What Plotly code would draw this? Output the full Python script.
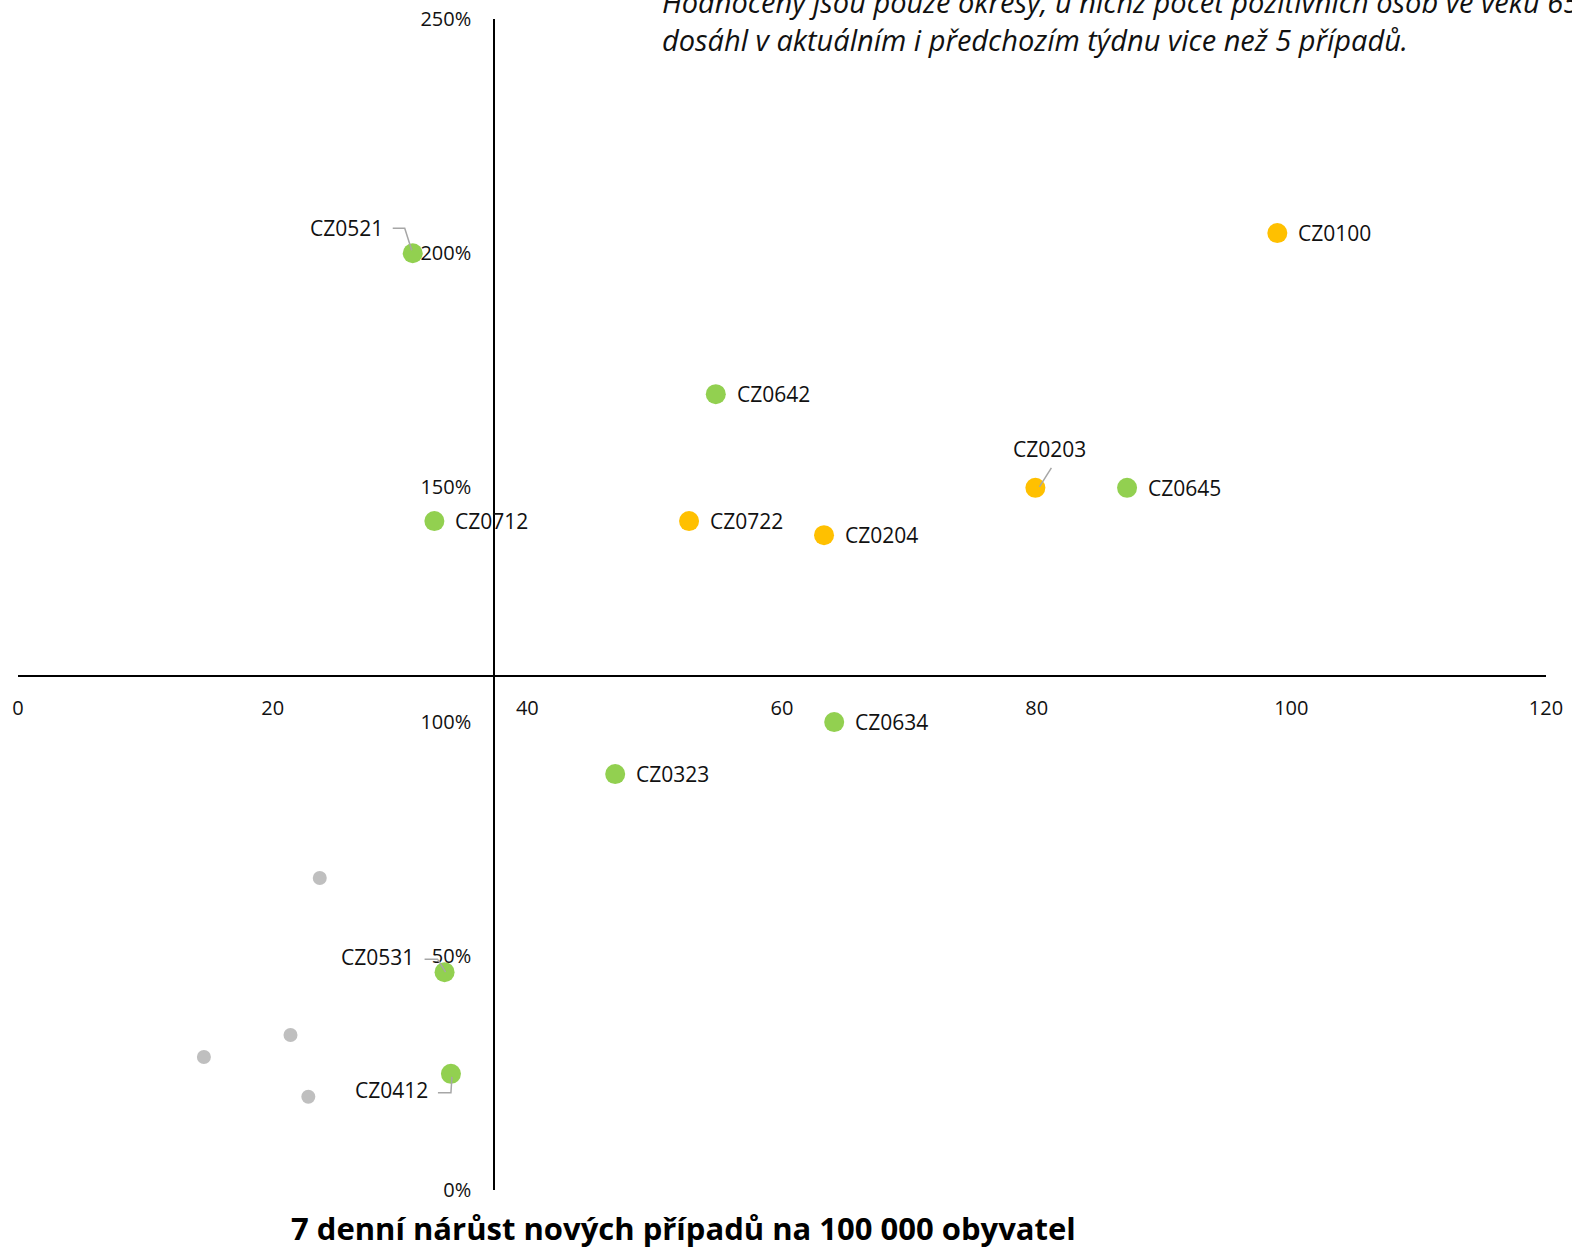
import plotly.graph_objects as go

# ---- data ----
codes = ["CZ0521", "CZ0100", "CZ0642", "CZ0203", "CZ0645", "CZ0712",
         "CZ0722", "CZ0204", "CZ0634", "CZ0323", "CZ0531", "CZ0412"]
x_vals = [31.0, 98.9, 54.8, 79.9, 87.1, 32.7, 52.7, 63.3, 64.1, 46.9, 33.5, 34.0]
y_vals = [2.000, 2.043, 1.699, 1.499, 1.499, 1.428, 1.428, 1.398, 0.999, 0.888, 0.465, 0.248]
groups = ["green", "orange", "green", "orange", "green", "green",
          "orange", "orange", "green", "green", "green", "green"]

grey_x = [23.7, 21.4, 14.6, 22.8]
grey_y = [0.666, 0.331, 0.284, 0.199]

x_ticks = [0, 20, 40, 60, 80, 100, 120]
y_ticks = [0, 0.5, 1.0, 1.5, 2.0, 2.5]

title_text = "7 denní nárůst nových případů na 100 000 obyvatel"
note_line1 = "Hodnoceny jsou pouze okresy, u nichž počet pozitivních osob ve věku 65+"
note_line2 = "dosáhl v aktuálním i předchozím týdnu vice než 5 případů."

colors = {"green": "#92D050", "orange": "#FFC000"}
FONT = "Open Sans"

# label offsets (screen pixels, y up) and leader paths for labels moved off their point
leader_label = {"CZ0521": (-66, 25), "CZ0203": (14, 39),
                "CZ0531": (-67, 15), "CZ0412": (-59, -16)}
leader_path = {"CZ0521": "M -20 25 L -8 25 L -1 3",
               "CZ0203": "M 16 20 L 4 1",
               "CZ0531": "M -20 13 L -7 13 L 1 0",
               "CZ0412": "M -13 -19 L 0 -19 L 1 -3"}

fig = go.Figure()

fig.add_trace(go.Scatter(
    x=grey_x, y=grey_y, mode="markers",
    marker=dict(size=14, color="#BFBFBF"), hoverinfo="skip", showlegend=False))

fig.add_trace(go.Scatter(
    x=x_vals, y=y_vals, mode="markers",
    marker=dict(size=20, color=[colors[g] for g in groups]),
    text=codes, showlegend=False))

for c, xv, yv in zip(codes, x_vals, y_vals):
    if c in leader_label:
        dx, dy = leader_label[c]
        fig.add_annotation(x=xv, y=yv, text=c, showarrow=False, xanchor="center",
                           yanchor="middle", xshift=dx, yshift=dy,
                           font=dict(family=FONT, size=21, color="#111"))
        fig.add_shape(type="path", xref="x", yref="y", xsizemode="pixel",
                      ysizemode="pixel", xanchor=xv, yanchor=yv,
                      path=leader_path[c], line=dict(color="#A6A6A6", width=1.5))
    else:
        fig.add_annotation(x=xv, y=yv, text=c, showarrow=False, xanchor="left",
                           xshift=19, font=dict(family=FONT, size=21, color="#111"))

fig.add_annotation(xref="paper", yref="paper", x=(660 - 18) / 1528, y=1 - (42 - 19) / 1171,
                   text="<i>" + note_line1 + "<br>" + note_line2 + "</i>",
                   showarrow=False, xanchor="left", yanchor="bottom", align="left",
                   yshift=-19, font=dict(family=FONT, size=29, color="#111"))
fig.add_annotation(xref="paper", yref="paper", x=(683 - 18) / 1528, y=-(1228 - 1190) / 1171,
                   text="<b>" + title_text + "</b>", showarrow=False, xanchor="center",
                   yanchor="middle", font=dict(family=FONT, size=31, color="#000"))

fig.update_layout(
    width=1572, height=1249,
    margin=dict(l=18, r=26, t=19, b=59, autoexpand=False),
    paper_bgcolor="white", plot_bgcolor="white",
    font=dict(family=FONT, size=20, color="#111"),
    xaxis=dict(range=[0, 120], tickvals=x_ticks, showgrid=False, zeroline=False,
               showline=True, linecolor="#000", linewidth=1.5,
               anchor="free", position=0.439, ticks="", ticklabelstandoff=14,
               tickfont=dict(family=FONT, size=20, color="#111")),
    yaxis=dict(range=[0, 2.5], tickvals=y_ticks, tickformat=".0%", showgrid=False,
               zeroline=False, showline=True, linecolor="#000", linewidth=1.5,
               anchor="free", position=0.3115, ticks="", ticklabelstandoff=18,
               tickfont=dict(family=FONT, size=20, color="#111")),
)

fig.write_html("out.html", config={"displayModeBar": False},
               post_script="document.body.style.margin='0';")
